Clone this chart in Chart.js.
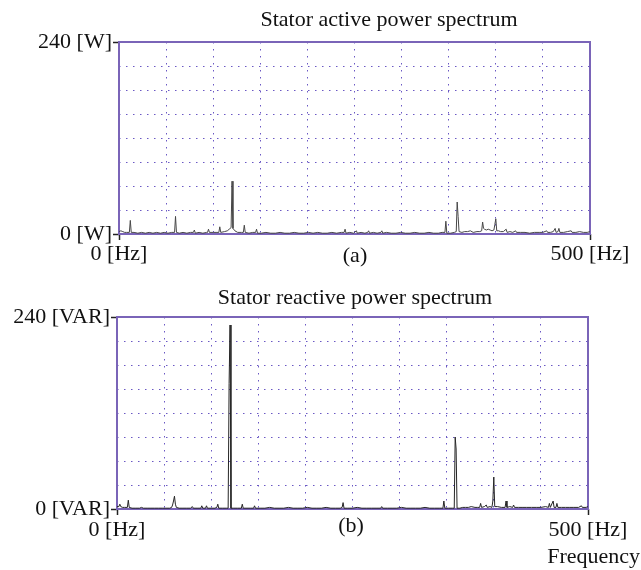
<!DOCTYPE html>
<html>
<head>
<meta charset="utf-8">
<script src="https://cdn.jsdelivr.net/npm/chart.js@4"></script>
<style>
  body { margin: 0; background: #fff; }
  #wrap { position: relative; width: 641px; height: 570px; }
  canvas { position: absolute; left: 0; }
</style>
</head>
<body>
<div id="wrap">
  <canvas id="active" width="641" height="285" style="top:0"></canvas>
  <canvas id="reactive" width="641" height="285" style="top:285px"></canvas>
</div>
<script>
// spectrum (a): stator active power [W]
const activeFreq = [
  0, 2, 4, 6, 8, 11, 12, 13, 16, 20,
  24, 28, 32, 36, 40, 44, 48, 52, 56, 59,
  60, 61, 64, 68, 72, 76, 79, 80, 81, 85,
  89, 93, 94, 95, 96, 100, 104, 106, 107, 108,
  112, 115, 117, 119, 120, 121, 123, 126, 130, 132,
  133, 134, 138, 142, 145, 146, 147, 151, 156, 161,
  166, 171, 176, 181, 186, 191, 196, 201, 206, 211,
  216, 221, 226, 231, 236, 239, 240, 241, 245, 249,
  252, 253, 257, 261, 264, 265, 266, 270, 274, 278,
  279, 280, 284, 289, 294, 299, 304, 309, 314, 319,
  324, 329, 334, 339, 343, 346, 347, 348, 352, 356,
  358, 359, 360, 361, 364, 367, 370, 373, 376, 380,
  383, 385, 386, 387, 388, 390, 392, 394, 396, 398,
  399, 400, 401, 403, 405, 408, 411, 412, 415, 418,
  421, 422, 426, 431, 436, 441, 446, 450, 454, 455,
  458, 461, 463, 464, 466, 467, 468, 472, 476, 480,
  481, 485, 489, 493, 497, 500
];
const activePower = [
  3, 4, 3, 2, 2, 2, 17, 2, 2, 1,
  2, 1, 2, 1, 2, 1, 2, 1, 2, 2,
  22, 2, 1, 2, 1, 2, 2, 5, 1, 2,
  1, 2, 2, 6, 2, 2, 2, 2, 9, 2,
  3, 4, 6, 8, 66, 7, 4, 2, 2, 2,
  11, 2, 1, 2, 2, 6, 1, 1, 2, 1,
  1, 2, 1, 1, 2, 1, 1, 2, 1, 2,
  1, 1, 2, 1, 2, 2, 6, 1, 2, 1,
  4, 1, 2, 1, 2, 4, 1, 2, 1, 2,
  4, 1, 2, 1, 1, 2, 1, 1, 2, 1,
  1, 2, 1, 1, 2, 2, 16, 1, 1, 2,
  3, 40, 22, 3, 2, 3, 3, 4, 2, 3,
  3, 4, 15, 7, 6, 5, 6, 5, 4, 5,
  12, 19, 4, 4, 3, 3, 6, 2, 3, 2,
  4, 2, 2, 2, 1, 2, 2, 2, 4, 2,
  2, 3, 7, 2, 3, 7, 2, 2, 3, 4,
  2, 2, 3, 2, 2, 3
];

// spectrum (b): stator reactive power [VAR]
const reactiveFreq = [
  0, 2, 3, 4, 6, 8, 11, 12, 13, 16,
  20, 24, 26, 28, 32, 36, 40, 44, 48, 52,
  56, 58, 59, 60, 61, 62, 63, 66, 70, 74,
  78, 80, 81, 85, 89, 90, 91, 94, 95, 96,
  100, 104, 106, 107, 108, 112, 116, 118, 119, 120,
  121, 124, 128, 132, 133, 134, 138, 142, 145, 146,
  147, 152, 157, 162, 167, 172, 177, 182, 187, 192,
  197, 202, 207, 212, 217, 222, 227, 232, 237, 239,
  240, 241, 245, 250, 255, 260, 265, 270, 275, 280,
  281, 282, 287, 292, 297, 302, 307, 312, 317, 322,
  327, 332, 337, 342, 346, 347, 348, 352, 356, 358,
  359, 360, 361, 364, 367, 370, 373, 376, 380, 383,
  385, 386, 387, 390, 392, 393, 396, 398, 399, 400,
  401, 404, 408, 412, 413, 414, 417, 420, 421, 422,
  426, 430, 435, 440, 445, 450, 455, 458, 459, 460,
  463, 464, 466, 467, 468, 472, 476, 480, 485, 490,
  493, 494, 498, 500
];
const reactivePower = [
  3, 3, 6, 3, 2, 2, 2, 11, 2, 1,
  1, 1, 2, 1, 1, 1, 1, 1, 1, 1,
  1, 2, 5, 10, 16, 6, 2, 1, 1, 1,
  1, 3, 1, 1, 1, 4, 1, 1, 4, 1,
  1, 1, 2, 6, 1, 1, 1, 1, 157, 230,
  1, 1, 1, 1, 6, 1, 1, 1, 1, 4,
  1, 1, 1, 2, 1, 1, 1, 2, 1, 1,
  1, 2, 1, 1, 1, 2, 1, 1, 1, 2,
  8, 1, 1, 1, 2, 1, 1, 1, 1, 1,
  3, 1, 1, 1, 1, 2, 1, 1, 1, 1,
  2, 1, 1, 1, 1, 10, 1, 1, 1, 1,
  90, 75, 1, 1, 2, 2, 2, 3, 2, 2,
  2, 7, 2, 3, 5, 2, 3, 2, 10, 40,
  3, 3, 2, 2, 10, 2, 3, 2, 5, 2,
  2, 2, 2, 2, 2, 2, 3, 2, 7, 2,
  10, 2, 2, 7, 2, 2, 2, 2, 2, 2,
  4, 2, 2, 3
];

const freqMax = 500;
const powerMax = 240;

const serif = 'Liberation Serif';
const frameColor = '#7a64b8';
const gridColor = '#6a58c4';

// frame + free texts (titles, captions)
const panelText = {
  id: 'panelText',
  beforeDatasetsDraw(chart) {
    const { ctx, chartArea: a } = chart;
    ctx.save();
    ctx.strokeStyle = frameColor;
    ctx.lineWidth = 2;
    ctx.strokeRect(a.left, a.top, a.right - a.left, a.bottom - a.top);
    ctx.restore();
  },
  afterDraw(chart) {
    const o = chart.options.plugins.panelText;
    const ctx = chart.ctx;
    ctx.save();
    ctx.fillStyle = '#111';
    ctx.font = '22px "' + serif + '"';
    ctx.textBaseline = 'alphabetic';
    (o.texts || []).forEach(t => {
      ctx.textAlign = t.align || 'center';
      ctx.fillText(t.text, t.x, t.y);
    });
    ctx.restore();
  }
};

function makeChart(id, freq, power, unit, color, sizes, texts) {
  const edge = (v, max) => v === 0 || v === max;
  return new Chart(document.getElementById(id), {
    type: 'line',
    data: {
      datasets: [{
        data: freq.map((f, i) => ({ x: f, y: power[i] })),
        borderColor: color,
        borderWidth: 1,
        pointRadius: 0,
        tension: 0,
      }]
    },
    options: {
      responsive: false,
      animation: false,
      parsing: false,
      layout: { padding: { top: sizes.top, right: sizes.right, left: 0, bottom: 0 } },
      plugins: {
        legend: { display: false },
        tooltip: { enabled: false },
        panelText: { texts: texts },
      },
      scales: {
        x: {
          type: 'linear',
          min: 0,
          max: freqMax,
          afterFit(scale) { scale.height = sizes.xHeight; },
          border: { display: false, dash: [1.5, 5.5] },
          grid: {
            color: gridColor,
            lineWidth: 1,
            tickLength: 6,
            tickWidth: 1.5,
            tickColor: c => edge(c.tick.value, freqMax) ? '#222' : 'rgba(0,0,0,0)',
          },
          ticks: {
            stepSize: 50,
            autoSkip: false,
            maxRotation: 0,
            padding: sizes.xPad,
            color: '#111',
            font: { family: serif, size: 22 },
            callback: v => edge(v, freqMax) ? v + ' [Hz]' : '',
          },
        },
        y: {
          min: 0,
          max: powerMax,
          afterFit(scale) { scale.width = sizes.left; },
          border: { display: false, dash: [1.5, 5.5] },
          grid: {
            color: gridColor,
            lineWidth: 1,
            tickLength: 6,
            tickWidth: 1.5,
            tickColor: c => edge(c.tick.value, powerMax) ? '#222' : 'rgba(0,0,0,0)',
          },
          ticks: {
            stepSize: 30,
            autoSkip: false,
            padding: 1,
            color: '#111',
            font: { family: serif, size: 22 },
            callback: v => edge(v, powerMax) ? v + ' [' + unit + ']' : '',
          },
        },
      },
    },
    plugins: [panelText],
  });
}

makeChart('active', activeFreq, activePower, 'W', '#474747',
  { top: 42, right: 51, left: 119, xHeight: 51, xPad: 1 },
  [
    { text: 'Stator active power spectrum', x: 389, y: 26 },
    { text: '(a)', x: 355, y: 262 },
  ]);

makeChart('reactive', reactiveFreq, reactivePower, 'VAR', '#262626',
  { top: 32, right: 53, left: 117, xHeight: 61, xPad: 2 },
  [
    { text: 'Stator reactive power spectrum', x: 355, y: 19 },
    { text: '(b)', x: 351, y: 247 },
    { text: 'Frequency', x: 640, y: 278, align: 'right' },
  ]);
</script>
</body>
</html>
